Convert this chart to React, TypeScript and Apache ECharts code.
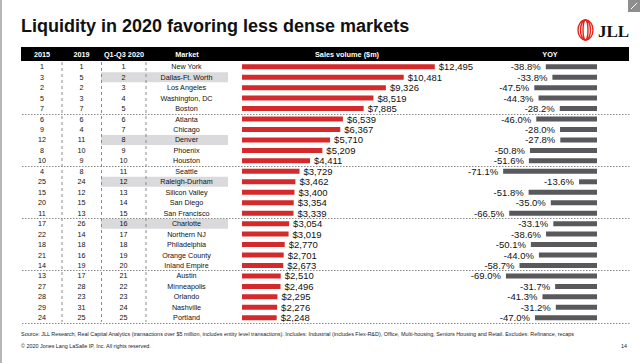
import React, { useEffect, useRef } from "react";
import * as echarts from "echarts";

const rank2015 = [1, 3, 2, 5, 7, 6, 9, 12, 8, 10, 4, 25, 15, 20, 11, 17, 22, 18, 21, 14, 13, 27, 28, 29, 24];
const rank2019 = [1, 5, 2, 3, 7, 6, 4, 11, 10, 9, 8, 24, 12, 15, 13, 26, 14, 18, 16, 19, 17, 28, 23, 31, 25];
const rankQ2020 = [1, 2, 3, 4, 5, 6, 7, 8, 9, 10, 11, 12, 13, 14, 15, 16, 17, 18, 19, 20, 21, 22, 23, 24, 25];
const markets = [
  "New York", "Dallas-Ft. Worth", "Los Angeles", "Washington, DC", "Boston",
  "Atlanta", "Chicago", "Denver", "Phoenix", "Houston",
  "Seattle", "Raleigh-Durham", "Silicon Valley", "San Diego", "San Francisco",
  "Charlotte", "Northern NJ", "Philadelphia", "Orange County", "Inland Empire",
  "Austin", "Minneapolis", "Orlando", "Nashville", "Portland",
];
const salesVolume = [12495, 10481, 9326, 8519, 7885, 6539, 6367, 5710, 5209, 4411, 3729, 3462, 3400, 3354, 3339, 3054, 3019, 2770, 2701, 2673, 2510, 2496, 2295, 2276, 2248];
const yoy = [-38.8, -33.8, -47.5, -44.3, -28.2, -46.0, -28.0, -27.8, -50.8, -51.6, -71.1, -13.6, -51.8, -35.0, -66.5, -33.1, -38.6, -50.1, -44.0, -58.7, -69.0, -31.7, -41.3, -31.2, -47.0];
const highlightedMarkets = ["Dallas-Ft. Worth", "Denver", "Raleigh-Durham", "Charlotte"];
const headers = ["2015", "2019", "Q1-Q3 2020", "Market", "Sales volume ($m)", "YOY"];

const FONT = "'Liberation Sans', Arial, sans-serif";
const TOP = 61.5;
const HEIGHT = 261.5;

export default function App() {
  const ref = useRef<HTMLDivElement>(null);
  useEffect(() => {
    const chart = echarts.init(ref.current!, null, { renderer: "svg" });
    const rowLabel = (margin: number) => ({
      show: true,
      align: "center",
      margin,
      fontSize: 7.2,
      color: "#111",
      fontFamily: FONT,
    });
    const hiddenCat = (gridIndex: number, data: any[], extra: any = {}) => ({
      type: "category",
      gridIndex,
      position: "left",
      offset: 0,
      data,
      inverse: true,
      axisLine: { show: false },
      axisTick: { show: false },
      axisLabel: { show: false },
      splitLine: { show: false },
      z: 5,
      ...extra,
    });
    const option: any = {
      animation: false,
      textStyle: { fontFamily: FONT },
      grid: [
        { left: 22, width: 608, top: TOP, height: HEIGHT },
        { left: 101, width: 127, top: TOP, height: HEIGHT },
        { left: 242, width: 216, top: TOP, height: HEIGHT },
        { left: 498, width: 99, top: TOP, height: HEIGHT },
      ],
      xAxis: [
        { type: "value", gridIndex: 0, min: 0, max: 1, show: false },
        { type: "value", gridIndex: 1, min: 0, max: 1, show: false },
        { type: "value", gridIndex: 2, min: 0, max: 14000, show: false },
        { type: "value", gridIndex: 3, min: -75, max: 0, show: false },
      ],
      yAxis: [
        hiddenCat(0, markets, {
          splitLine: {
            show: true,
            interval: (i: number) => i > 0 && i % 5 === 0,
            lineStyle: { color: "#8a8a8a", type: [1.5, 1.5], width: 1 },
          },
        }),
        hiddenCat(1, markets),
        hiddenCat(2, markets, { axisLabel: rowLabel(55.5) }),
        hiddenCat(2, rankQ2020.map(String), { axisLabel: rowLabel(118.5) }),
        hiddenCat(2, rank2019.map(String), { axisLabel: rowLabel(160.5) }),
        hiddenCat(2, rank2015.map(String), { axisLabel: rowLabel(200) }),
        hiddenCat(3, markets),
      ],
      series: [
        {
          type: "bar",
          xAxisIndex: 1,
          yAxisIndex: 1,
          silent: true,
          z: 1,
          barWidth: 10,
          itemStyle: { color: "#dadadc" },
          data: markets.map((m) => (highlightedMarkets.includes(m) ? 1 : "-")),
        },
        {
          type: "bar",
          xAxisIndex: 2,
          yAxisIndex: 2,
          barWidth: 5,
          itemStyle: { color: "#d42a2c" },
          label: {
            show: true,
            position: "right",
            distance: 4,
            fontSize: 9.5,
            color: "#111",
            fontFamily: FONT,
            formatter: (p: any) => "$" + Number(p.value).toLocaleString("en-US"),
          },
          data: salesVolume,
        },
        {
          type: "bar",
          xAxisIndex: 3,
          yAxisIndex: 6,
          barWidth: 5,
          itemStyle: { color: "#58585d" },
          label: {
            show: true,
            position: "left",
            distance: 5,
            fontSize: 9.5,
            color: "#111",
            fontFamily: FONT,
            formatter: (p: any) => Number(p.value).toFixed(1) + "%",
          },
          data: yoy,
        },
      ],
      graphic: [
        { type: "rect", shape: { x: 0, y: 0, width: 2, height: 363 }, style: { fill: "#b5b5b5" } },
        { type: "rect", shape: { x: 628, y: 0, width: 12, height: 12 }, style: { fill: "#8e8e8e" } },
        { type: "line", shape: { x1: 631, y1: 9, x2: 637, y2: 3 }, style: { stroke: "#fff", lineWidth: 1 } },
        {
          type: "text",
          x: 21,
          y: 26,
          style: { text: "Liquidity in 2020 favoring less dense markets", fontSize: 18, fontWeight: "bold", fontFamily: FONT, fill: "#111", verticalAlign: "middle", align: "left" },
        },
        { type: "ellipse", shape: { cx: 585.5, cy: 30, rx: 7.5, ry: 10 }, style: { fill: "none", stroke: "#e1251b", lineWidth: 1.4 } },
        { type: "ellipse", shape: { cx: 585.5, cy: 30, rx: 5, ry: 10 }, style: { fill: "none", stroke: "#e1251b", lineWidth: 1.4 } },
        { type: "ellipse", shape: { cx: 585.5, cy: 30, rx: 2.5, ry: 10 }, style: { fill: "none", stroke: "#e1251b", lineWidth: 1.4 } },
        {
          type: "text",
          x: 598,
          y: 31,
          style: { text: "JLL", fontSize: 17, fontWeight: "bold", fontFamily: "'Liberation Serif', 'DejaVu Serif', serif", fill: "#111", verticalAlign: "middle", align: "left" },
        },
        { type: "rect", shape: { x: 21, y: 47, width: 608, height: 14 }, style: { fill: "#000" } },
        ...[42, 81.5, 124, 187, 347, 550].map((cx, i) => ({
          type: "text",
          x: cx,
          y: 54,
          style: { text: headers[i], fontSize: 7.3, fontWeight: "bold", fontFamily: FONT, fill: "#fff", align: "center", verticalAlign: "middle" },
        })),
        ...[62, 101.5, 146].map((x) => ({
          type: "line",
          shape: { x1: x, y1: 62, x2: x, y2: 322 },
          style: { stroke: "#8a8a8a", lineWidth: 1, lineDash: [3, 3] },
          z: 10,
        })),
        {
          type: "text",
          x: 21,
          y: 334,
          style: {
            text: "Source: JLL Research, Real Capital Analytics (transactions over $5 million, includes entity level transactions). Includes: Industrial (includes Flex-R&D), Office, Multi-housing, Seniors Housing and Retail. Excludes: Refinance, recaps",
            fontSize: 5.45,
            fontFamily: FONT,
            fill: "#222",
            verticalAlign: "middle",
            align: "left",
          },
        },
        {
          type: "text",
          x: 21,
          y: 345.5,
          style: { text: "© 2020 Jones Lang LaSalle IP, Inc. All rights reserved.", fontSize: 5.4, fontFamily: FONT, fill: "#222", verticalAlign: "middle", align: "left" },
        },
        {
          type: "text",
          x: 627,
          y: 346,
          style: { text: "14", fontSize: 5.4, fontFamily: FONT, fill: "#222", verticalAlign: "middle", align: "right" },
        },
      ],
    };
    chart.setOption(option);
    return () => chart.dispose();
  }, []);
  return (
    <div
      ref={ref}
      style={{ position: "fixed", left: 0, top: 0, width: 640, height: 363, background: "#fff" }}
    />
  );
}
